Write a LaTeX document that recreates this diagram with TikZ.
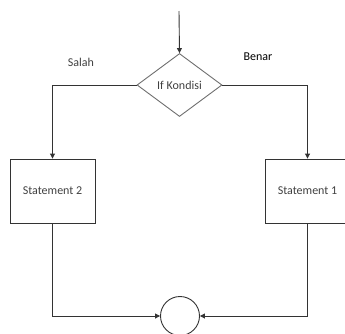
\documentclass[tikz,border=0pt]{standalone}
\usepackage{fontspec}
\setmainfont{Carlito}
\usetikzlibrary{shapes.geometric,arrows.meta}
\definecolor{txt}{HTML}{404040}
\definecolor{ln}{HTML}{333333}
\definecolor{dm}{HTML}{6E6E6E}
\tikzset{
  lbl/.style={font=\fontsize{12pt}{14pt}\selectfont, text=txt, inner sep=0pt},
  cond/.style={diamond, draw=dm, line width=0.9pt, minimum width=85pt, minimum height=63pt, aspect=1.35, inner sep=0pt, font=\fontsize{12pt}{14pt}\selectfont, text=txt},
  stmt/.style={rectangle, draw=ln, line width=0.9pt, minimum width=85pt, minimum height=64pt, inner sep=0pt, font=\fontsize{12pt}{14pt}\selectfont, text=txt},
  junc/.style={circle, draw=ln, line width=0.9pt, minimum size=39pt, inner sep=0pt},
  conn/.style={draw=ln, line width=0.9pt, -{Triangle[length=5pt,width=5pt]}},
}
\begin{document}
\begin{tikzpicture}[x=1pt,y=-1pt]
\useasboundingbox (0,0) rectangle (345,333);
\begin{scope}
\clip (0,0) rectangle (345,333);
\coordinate (start) at (179,11);
\node[cond] (d) at (179.5,85) {If Kondisi};
\node[stmt] (s2) at (52.5,191) {Statement 2};
\node[stmt] (s1) at (307.5,191) {Statement 1};
\node[junc] (j) at (180,316) {};
\node[lbl] (salah) at (81,62) {Salah};
\node[lbl, text=black] (benar) at (258,57) {Benar};
\draw[conn] (start) -- (d.north);
\draw[conn] (d.west) -| (s2.north);
\draw[conn] (d.east) -| (s1.north);
\draw[conn] (s2.south) |- (j.west);
\draw[conn] (s1.south) |- (j.east);
\end{scope}
\end{tikzpicture}
\end{document}
